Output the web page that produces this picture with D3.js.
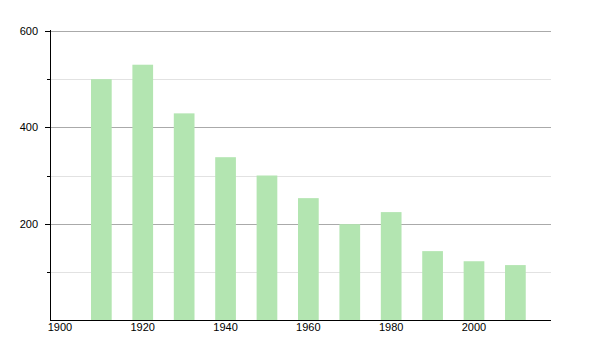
<!DOCTYPE html>
<html>
<head>
<meta charset="utf-8">
<script src="https://d3js.org/d3.v7.min.js"></script>
<style>
    body { margin: 0; background: #fff; }
    text { font: 11px "Liberation Sans", Arial, sans-serif; fill: #000; }
</style>
</head>
<body>
<script>
    var years = [1910, 1920, 1930, 1940, 1950, 1960, 1970, 1980, 1990, 2000, 2010];
    var values = [500, 530, 429, 338, 300, 253, 199, 224, 143, 122, 114];
    var xTicks = [1900, 1920, 1940, 1960, 1980, 2000];
    var yMajor = [200, 400, 600];
    var yMinor = [100, 300, 500];

    var width = 600, height = 350;
    var plotLeft = 50, plotRight = 551, plotTop = 31, plotBottom = 320;

    var svg = d3.select("body").append("svg")
        .attr("width", width)
        .attr("height", height);

    var x = d3.scaleLinear().domain([1897.6, 2018.6]).range([plotLeft, plotRight]);
    var y = d3.scaleLinear().domain([0, 600]).range([plotBottom, plotTop]);

    function yPx(d) { return Math.round(y(d)) + 0.5; }

    // grid lines
    svg.append("g").selectAll("line")
        .data(yMinor).enter().append("line")
        .attr("x1", plotLeft).attr("x2", plotRight)
        .attr("y1", yPx).attr("y2", yPx)
        .attr("stroke", "#e2e2e2");

    svg.append("g").selectAll("line")
        .data(yMajor).enter().append("line")
        .attr("x1", plotLeft).attr("x2", plotRight)
        .attr("y1", yPx).attr("y2", yPx)
        .attr("stroke", "#aaaaaa");

    // bars
    var barW = x(1905) - x(1900);
    svg.append("g").selectAll("rect")
        .data(years).enter().append("rect")
        .attr("x", function (d) { return x(d) - barW / 2; })
        .attr("y", function (d, i) { return y(values[i]); })
        .attr("width", barW)
        .attr("height", function (d, i) { return plotBottom - y(values[i]); })
        .attr("fill", "#b3e5b1");

    // y axis
    var yAxis = svg.append("g");
    yAxis.append("line")
        .attr("x1", plotLeft + 0.5).attr("x2", plotLeft + 0.5)
        .attr("y1", plotTop - 1).attr("y2", plotBottom + 1)
        .attr("stroke", "#000");
    yAxis.selectAll("line.tick")
        .data(yMajor).enter().append("line")
        .attr("class", "tick")
        .attr("x1", plotLeft - 5).attr("x2", plotLeft)
        .attr("y1", yPx).attr("y2", yPx)
        .attr("stroke", "#000");
    yAxis.selectAll("line.mtick")
        .data(yMinor).enter().append("line")
        .attr("class", "mtick")
        .attr("x1", plotLeft - 3).attr("x2", plotLeft)
        .attr("y1", yPx).attr("y2", yPx)
        .attr("stroke", "#000");
    yAxis.selectAll("text")
        .data(yMajor).enter().append("text")
        .attr("x", 38)
        .attr("y", function (d) { return y(d); })
        .attr("dy", "0.35em")
        .attr("text-anchor", "end")
        .text(function (d) { return d; });

    // x axis
    var xAxis = svg.append("g");
    xAxis.append("line")
        .attr("x1", plotLeft).attr("x2", plotRight)
        .attr("y1", plotBottom + 0.5).attr("y2", plotBottom + 0.5)
        .attr("stroke", "#000");
    xAxis.selectAll("text")
        .data(xTicks).enter().append("text")
        .attr("x", function (d) { return x(d); })
        .attr("y", 331)
        .attr("text-anchor", "middle")
        .text(function (d) { return d; });
</script>
</body>
</html>
